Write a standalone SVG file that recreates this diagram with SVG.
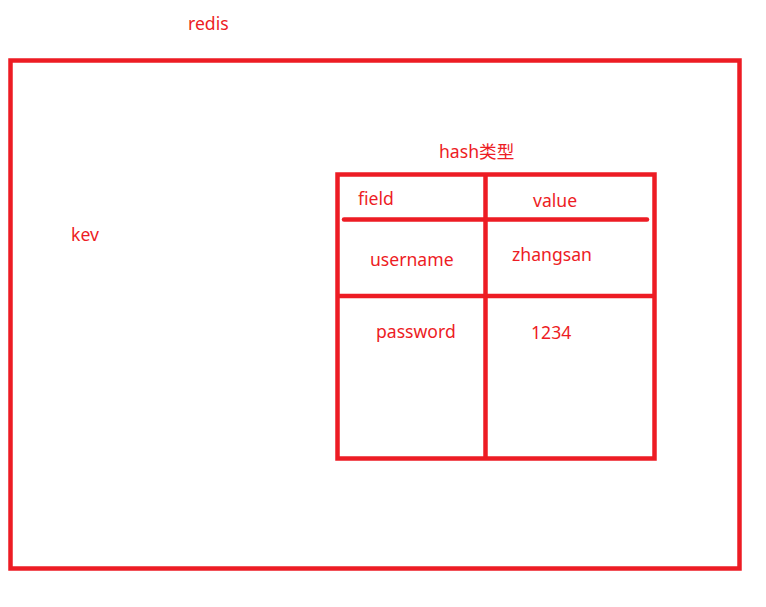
<svg xmlns="http://www.w3.org/2000/svg" width="766" height="607" viewBox="0 0 766 607">
<style>
.ln{fill:none;stroke:#ED1C24;stroke-width:4.5}
.t{font-family:"Noto Sans","Noto Sans CJK SC",sans-serif;font-size:17.6px;fill:#ED1C24}
</style>
<rect width="766" height="607" fill="#fff"/>
<g id="redis">
<rect class="ln" x="10.5" y="60.5" width="729" height="508"/>
<text class="t" x="188" y="30">redis</text>
</g>
<g id="key">
<text class="t" x="71" y="241">kev</text>
</g>
<g id="hash">
<text class="t" x="439" y="158">hash类型</text>
<rect class="ln" x="337.5" y="174.5" width="317" height="284"/>
<line class="ln" x1="485.5" y1="174" x2="485.5" y2="459"/>
<line class="ln" x1="344" y1="219.5" x2="647" y2="219.5" stroke-linecap="round"/>
<line class="ln" x1="337" y1="296" x2="655" y2="296"/>
<text class="t" x="358" y="205">field</text>
<text class="t" x="533" y="207">value</text>
<text class="t" x="370" y="266">username</text>
<text class="t" x="512" y="261">zhangsan</text>
<text class="t" x="376" y="338">password</text>
<text class="t" x="531" y="339">1234</text>
</g>
</svg>
